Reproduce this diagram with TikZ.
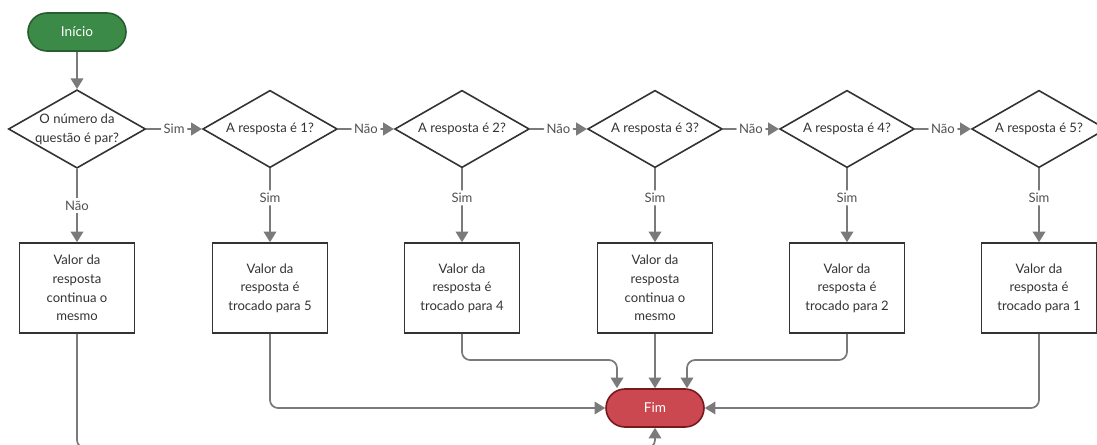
\documentclass[tikz,border=0pt]{standalone}
\usepackage{fontspec}
\setmainfont{Lato}
\usetikzlibrary{arrows.meta,shapes.geometric}

\definecolor{linha}{HTML}{7A7A7A}
\definecolor{borda}{HTML}{333333}
\definecolor{verde}{HTML}{3B8A47}
\definecolor{verdeesc}{HTML}{285E2F}
\definecolor{vermelho}{HTML}{CB4850}
\definecolor{vermelhoesc}{HTML}{761A20}

\tikzset{
  inicio/.style={draw=verdeesc, fill=verde, text=white, line width=1.2pt,
    rounded corners=14.25pt, minimum width=73.5pt, minimum height=28.5pt,
    font=\fontsize{10.2}{12}\selectfont},
  fim/.style={inicio, draw=vermelhoesc, fill=vermelho},
  decisao/.style={diamond, draw=borda, line width=1.2pt, aspect=1.75,
    minimum width=101pt, minimum height=58pt, inner sep=0pt, align=center, text=borda},
  valor/.style={draw=borda, line width=1.2pt, minimum width=86pt,
    minimum height=67.5pt, align=center, text=borda},
  seta/.style={draw=linha, line width=1.3pt, rounded corners=6pt,
    -{Triangle[length=8pt,width=9.5pt]}},
  rotulo/.style={fill=white, text=borda!85, inner sep=2pt}
}

\begin{document}
\begin{tikzpicture}[x=0.75pt,y=-0.75pt,font=\fontsize{9.8}{14}\selectfont]
  \useasboundingbox (0,0) rectangle (1097,445);
  \clip (0,0) rectangle (1097,445);

  \node[inicio] (inicio) at (77,32) {Início};
  \node[decisao] (q0) at (77,129) {O número da\\questão é par?};
  \foreach \i/\x in {1/270,2/462,3/655,4/847,5/1039}
    \node[decisao] (q\i) at (\x,129) {A resposta é \i?};

  \node[valor] (v0) at (77,288) {Valor da\\resposta\\continua o\\mesmo};
  \node[valor] (v1) at (270,288) {Valor da\\resposta é\\trocado para 5};
  \node[valor] (v2) at (462,288) {Valor da\\resposta é\\trocado para 4};
  \node[valor] (v3) at (655,288) {Valor da\\resposta\\continua o\\mesmo};
  \node[valor] (v4) at (847,288) {Valor da\\resposta é\\trocado para 2};
  \node[valor] (v5) at (1039,288) {Valor da\\resposta é\\trocado para 1};

  \node[fim] (fim) at (655,408) {Fim};

  \draw[seta] (inicio) -- (q0);
  \draw[seta] (q0) -- node[rotulo] {Sim} (q1);
  \foreach \i [evaluate=\i as \j using int(\i+1)] in {1,...,4}
    \draw[seta] (q\i) -- node[rotulo] {Não} (q\j);
  \draw[seta] (q0) -- node[rotulo] {Não} (v0);
  \foreach \i in {1,...,5}
    \draw[seta] (q\i) -- node[rotulo,pos=0.4] {Sim} (v\i);

  % ligacoes ate o fim
  \draw[seta] (v0.south) -- (77,448) -| (fim.south);
  \draw[seta] (v1.south) |- (fim.west);
  \draw[seta] (v2.south) -- (462,360) -| ([xshift=-28.5pt]fim.north);
  \draw[seta] (v3) -- (fim);
  \draw[seta] (v4.south) -- (847,360) -| ([xshift=24pt]fim.north);
  \draw[seta] (v5.south) |- (fim.east);
\end{tikzpicture}
\end{document}
